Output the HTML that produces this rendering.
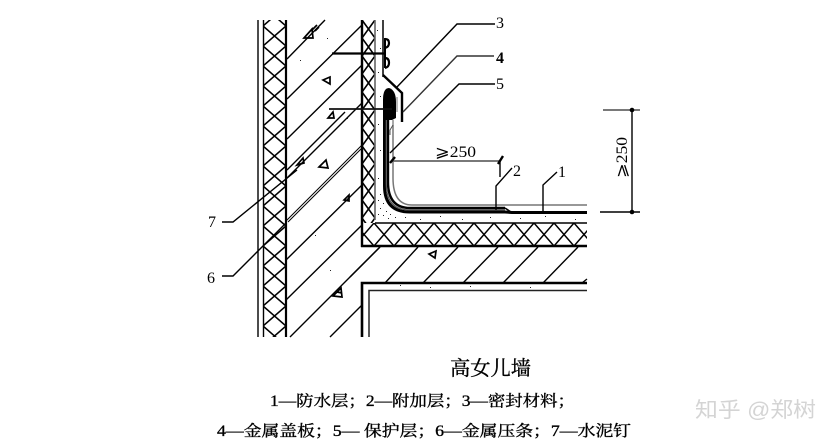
<!DOCTYPE html>
<html><head><meta charset="utf-8"><style>
html,body{margin:0;padding:0;background:#fff}svg{display:block}
text{font-family:"Liberation Serif","Noto Serif CJK SC",serif;fill:#000}
.t{stroke:#000;stroke-width:.35px}
</style></head><body>
<svg width="836" height="446" viewBox="0 0 836 446" xmlns="http://www.w3.org/2000/svg">
<defs>
<pattern id="h1" x="263" y="66" width="23" height="20" patternUnits="userSpaceOnUse"><path d="M0 0L23 20M23 0L0 20" stroke="#000" stroke-width="1.600" fill="none"/></pattern>
<pattern id="h2" x="362" y="20" width="13" height="18" patternUnits="userSpaceOnUse"><path d="M0 0L13 18M13 0L0 18" stroke="#000" stroke-width="1.600" fill="none"/></pattern>
<pattern id="h3" x="374" y="223" width="20" height="23" patternUnits="userSpaceOnUse"><path d="M0 0L20 23M20 0L0 23" stroke="#000" stroke-width="1.500" fill="none"/></pattern>
</defs>
<rect width="836" height="446" fill="#fff"/>

<!-- concrete diagonals -->
<g stroke="#000" stroke-width="1.400" fill="none">
<path d="M287 59L325 20M287 99L362 25M287 139L362 65M287 170L345 112M287 178L362 103"/>
<path d="M286 260L362 185M286 300L362 225M290 337L380 247M330 337L362 305"/>
<path d="M350 277L380 247M385 283L418 247M423 283L458 247M463 283L498 247M503 283L538 247M543 283L578 247M582 283L587 279"/>
<path d="M286 221L362 145M288 222L364 146" stroke-width="1"/>
</g>

<!-- left wall -->
<rect x="263" y="20" width="23" height="317" fill="url(#h1)"/>
<path d="M258 20V337M263.500 20V337" stroke="#000" stroke-width="1.400"/>
<path d="M286 20V337" stroke="#000" stroke-width="2.200"/>

<!-- right hatch and slab hatch -->
<rect x="362" y="20" width="13" height="205" fill="#fff"/>
<rect x="362" y="20" width="13" height="205" fill="url(#h2)"/>
<rect x="362" y="223" width="225" height="23" fill="#fff"/>
<rect x="362" y="223" width="225" height="23" fill="url(#h3)"/>
<path d="M362 20V247M361 246H587" stroke="#000" stroke-width="2.400" fill="none"/>
<path d="M375 20V220" stroke="#666" stroke-width="1.600"/>
<path d="M375 223H587" stroke="#000" stroke-width="1.500"/>
<path d="M383 20V77" stroke="#000" stroke-width="1.500"/>

<!-- ceiling -->
<path d="M362 337V283H587" stroke="#000" stroke-width="2.600" fill="none"/>
<path d="M369 337V290.500H587" stroke="#222" stroke-width="1.500" fill="none"/>

<!-- membrane -->
<path d="M393 125V178Q393 205 412 205H587" stroke="#777" stroke-width="1.500" fill="none"/>
<path d="M388 100V182Q388 208 410 208H505" stroke="#000" stroke-width="2.400" fill="none"/>
<path d="M384.500 100V186Q384.500 212 410 212H505L512 212.500H587" stroke="#000" stroke-width="3" fill="none"/>
<path d="M505 208L511 212" stroke="#000" stroke-width="1.500"/>
<path d="M386.300 120V184Q386.300 210 410 210H505" stroke="#555" stroke-width="1.200" fill="none"/>

<!-- termination -->
<path d="M383 100Q383 88 389 88Q396 90 396 102V118L392 120H386Z" fill="#000"/>
<path d="M393 120V125L390 130V135" stroke="#555" fill="none"/>
<path d="M383 75L402 93V122" stroke="#000" stroke-width="2.400" fill="none"/>
<path d="M397 97V112" stroke="#777" stroke-width="1"/>
<path d="M385 39Q389 39 389 43Q389 47 385 48M385 58Q389 58 389 63Q389 67 385 68" stroke="#000" stroke-width="2.200" fill="none"/>
<rect x="384" y="38" width="2" height="30" fill="#000"/>
<path d="M332 53.500H386" stroke="#000" stroke-width="2.200"/>
<path d="M329 109H392" stroke="#111" stroke-width="1.800"/>

<!-- triangles -->
<g stroke="#000" stroke-width="1.700" fill="none">
<path d="M304 38L312 29L313 38ZM312 30L317 25M315 31L319 27"/>
<path d="M323 80L330 77V84Z"/>
<path d="M328 118L333 112L334 118Z"/>
<path d="M297 165L303 158L304 163Z"/>
<path d="M319 167L326 160L328 168Z"/>
<path d="M344 200L349 195V201Z"/>
<path d="M333 296L341 288L342 297ZM337 292L342 293"/>
<path d="M429 254L436 251L435 258Z"/>
</g>

<!-- stipple -->
<g fill="#222">
<rect x="377" y="30" width="1" height="1"/><rect x="380" y="48" width="1" height="1"/><rect x="378" y="72" width="1" height="1"/><rect x="380" y="96" width="1" height="1"/><rect x="378" y="124" width="1" height="1"/><rect x="380" y="150" width="1" height="1"/><rect x="378" y="178" width="1" height="1"/>
<rect x="380" y="194" width="1" height="1"/><rect x="378" y="200" width="1" height="1"/><rect x="383" y="203" width="1" height="1"/><rect x="380" y="208" width="1" height="1"/><rect x="386" y="211" width="1" height="1"/><rect x="383" y="215" width="1" height="1"/><rect x="390" y="214" width="1" height="1"/><rect x="378" y="214" width="1" height="1"/><rect x="395" y="217" width="1" height="1"/><rect x="388" y="218" width="1" height="1"/>
<rect x="405" y="217" width="1" height="1"/><rect x="420" y="219" width="1" height="1"/><rect x="440" y="216" width="1" height="1"/><rect x="462" y="219" width="1" height="1"/><rect x="490" y="217" width="1" height="1"/><rect x="520" y="218" width="1" height="1"/><rect x="545" y="216" width="1" height="1"/><rect x="575" y="219" width="1" height="1"/>
<rect x="300" y="60" width="1" height="1"/><rect x="327" y="38" width="1" height="1"/><rect x="347" y="118" width="1" height="1"/><rect x="315" y="235" width="1" height="1"/><rect x="330" y="270" width="1" height="1"/><rect x="400" y="285" width="1" height="1"/><rect x="430" y="287" width="1" height="1"/><rect x="470" y="286" width="1" height="1"/><rect x="530" y="287" width="1" height="1"/>
</g>

<!-- leaders -->
<g stroke="#000" stroke-width="1.400" fill="none">
<path d="M495 24H457L397 87"/>
<path d="M494 56H457L403 112" stroke="#333"/>
<path d="M495 84H459L390 153"/>
<path d="M222 222H233L297 170"/>
<path d="M222 276H233L286 223"/>
<path d="M512 168L496 186V210"/>
<path d="M557 172L543 185V212"/>
<path d="M500 161V177"/>
<path d="M632 110V212"/>
<path d="M600 212H640"/>
</g>
<path d="M603 110H640" stroke="#666" stroke-width="1.700"/>
<path d="M392 161H500" stroke="#666" stroke-width="1.700"/>
<path d="M390 163L395 157M498 164L503 156" stroke="#000" stroke-width="2.400"/>
<circle cx="632" cy="110" r="2.300" fill="#000"/><circle cx="632" cy="212" r="2.300" fill="#000"/>

<!-- labels -->
<g font-size="16">
<text x="496" y="28">3</text>
<text x="496" y="63" font-weight="bold">4</text>
<text x="496" y="89">5</text>
<text x="208" y="227">7</text>
<text x="207" y="283">6</text>
<text x="513" y="176">2</text>
<text x="558" y="177">1</text>
<text x="435" y="157" font-size="16" textLength="41" lengthAdjust="spacingAndGlyphs">⩾250</text>
<text transform="translate(627 178) rotate(-90)" font-size="16" textLength="41" lengthAdjust="spacingAndGlyphs">⩾250</text>
</g>

<text class="t" x="450" y="375" font-size="20" textLength="81" lengthAdjust="spacingAndGlyphs">高女儿墙</text>
<text class="t" x="270" y="406" font-size="15.500" textLength="305" lengthAdjust="spacingAndGlyphs">1—防水层；2—附加层；3—密封材料；</text>
<text class="t" x="217" y="436" font-size="15.500" textLength="414" lengthAdjust="spacingAndGlyphs">4—金属盖板；5— 保护层；6—金属压条；7—水泥钉</text>
<text x="695" y="417" font-size="21" textLength="121" lengthAdjust="spacingAndGlyphs" style="fill:#d4d4d4;font-family:'Liberation Sans','Noto Sans CJK SC',sans-serif">知乎 @郑树</text>
</svg>
</body></html>
